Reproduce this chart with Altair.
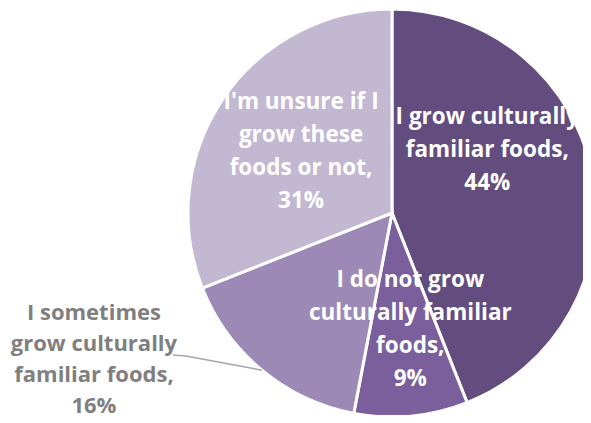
import altair as alt
import pandas as pd

categories = [
    "I grow culturally familiar foods",
    "I do not grow culturally familiar foods",
    "I sometimes grow culturally familiar foods",
    "I'm unsure if I grow these foods or not",
]
values = [44, 9, 16, 31]
label_lines = [
    "I grow culturally\nfamiliar foods,\n44%",
    "I do not grow\nculturally familiar\nfoods,\n9%",
    "I sometimes\ngrow culturally\nfamiliar foods,\n16%",
    "I'm unsure if I\ngrow these\nfoods or not,\n31%",
]
colors = ["#634d7e", "#7a5f9c", "#9c89b6", "#c2b8d2"]

df = pd.DataFrame({"cat": categories, "value": values, "label": label_lines,
                   "idx": list(range(len(values)))})

R = 204
CX, CY = 191, 202  # view centre (view is 382 x 404)

base = alt.Chart(df).transform_window(
    cum="sum(value)", sort=[alt.SortField("idx")], frame=[None, 0]
).transform_calculate(
    mid="datum.cum - datum.value / 2"
)

pie = alt.Chart(df).mark_arc(outerRadius=R, stroke="white", strokeWidth=3).encode(
    theta=alt.Theta("value:Q", stack=True),
    order=alt.Order("idx:Q"),
    color=alt.Color("cat:N", scale=alt.Scale(domain=categories, range=colors), legend=None),
)

theta_mid = alt.Theta("mid:Q", stack=None,
                      scale=alt.Scale(domain=[0, 100], range=[0, 6.283185307179586]))

label_style = [
    # radius, dx, dy, colour, font size, line height  (anchor = first line)
    (97, 0, -78, "white", 22.5, 33),
    (67, 12, 0, "white", 22.5, 33),
    (135, -212, -4, "#7f7f7f", 22, 31),
    (110, 0, -49, "white", 22.5, 33),
]

layers = [pie]

# leader line for the outside label
leader = base.transform_filter("datum.idx == 2").transform_calculate(
    lx=f"{CX} + {R} * sin(datum.mid / 100 * 2 * PI)",
    ly=f"{CY} - {R} * cos(datum.mid / 100 * 2 * PI)",
).mark_rule(color="#a6a6a6", strokeWidth=1.5).encode(
    x=alt.X("lx:Q", scale=None),
    y=alt.Y("ly:Q", scale=None),
    x2=alt.value(-15),
    y2=alt.value(345),
)
leader_tail = base.transform_filter("datum.idx == 2").mark_rule(
    color="#a6a6a6", strokeWidth=1.5
).encode(x=alt.value(-28), x2=alt.value(-15), y=alt.value(344), y2=alt.value(345))
layers += [leader, leader_tail]

for i, (r, dx, dy, col, fs, lh) in enumerate(label_style):
    t = base.transform_filter(f"datum.idx == {i}").mark_text(
        radius=r, dx=dx, dy=dy, color=col, font="Open Sans", fontWeight="bold",
        fontSize=fs, lineBreak="\n", lineHeight=lh, align="center", baseline="middle",
    ).encode(theta=theta_mid, text="label:N")
    layers.append(t)

chart = alt.layer(*layers).properties(
    width=382, height=404,
    autosize=alt.AutoSizeParams(type="none"),
    padding={"left": 193, "right": 0, "top": 3, "bottom": 0},
).configure_view(stroke=None)

chart.save("out.html", embed_options={"renderer": "svg", "actions": False})
